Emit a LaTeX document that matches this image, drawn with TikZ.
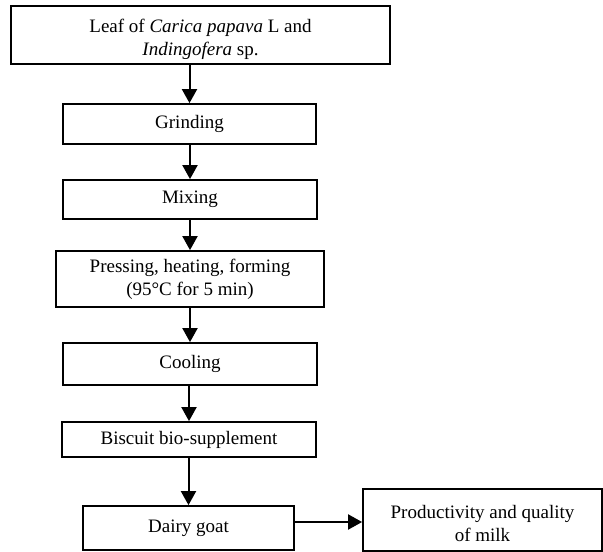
\documentclass[tikz,border=0pt]{standalone}
\usepackage{fontspec}
\setmainfont{Liberation Serif}
\usetikzlibrary{arrows.meta,calc}
\begin{document}
\begin{tikzpicture}[x=1pt,y=-1pt,
  txt/.style={align=center,font=\fontsize{19}{23}\selectfont},
  box/.style={draw,line width=1.8pt,inner sep=0pt,txt},
  arr/.style={line width=2pt,-{Triangle[length=14pt,width=15pt]}}]
\useasboundingbox (0,0) rectangle (603,552);
\node[box,minimum width=379pt,minimum height=58pt,
  label={[txt,yshift=-4pt]center:Leaf of \textit{Carica papava} L and\\\textit{Indingofera} sp.}] (b1) at (200.5,35) {};
\node[box,minimum width=253pt,minimum height=40pt] (b2) at (189.5,124) {Grinding};
\node[box,minimum width=254pt,minimum height=39pt] (b3) at (190,199.5) {Mixing};
\node[box,minimum width=268pt,minimum height=56pt] (b4) at (190,279) {Pressing, heating, forming\\(95°C for 5 min)};
\node[box,minimum width=254pt,minimum height=42pt] (b5) at (190,364) {Cooling};
\node[box,minimum width=254pt,minimum height=35pt] (b6) at (189,439.5) {Biscuit bio-supplement};
\node[box,minimum width=211pt,minimum height=44pt] (b7) at (188.5,528) {Dairy goat};
\node[box,minimum width=239pt,minimum height=62pt,
  label={[txt,yshift=-3.5pt]center:Productivity and quality\\of milk}] (b8) at (482.5,520) {};
\draw[arr] (b1.south -| b2.north) -- (b2.north);
\draw[arr] (b2.south -| b3.north) -- (b3.north);
\draw[arr] (b3.south -| b4.north) -- (b4.north);
\draw[arr] (b4.south -| b5.north) -- (b5.north);
\draw[arr] (b5.south -| b6.north) -- (b6.north);
\draw[arr] (b6.south -| b7.north) -- (b7.north);
\draw[arr] ([yshift=6pt]b7.east) -- ([yshift=6pt]b7.east -| b8.west);
\end{tikzpicture}
\end{document}
